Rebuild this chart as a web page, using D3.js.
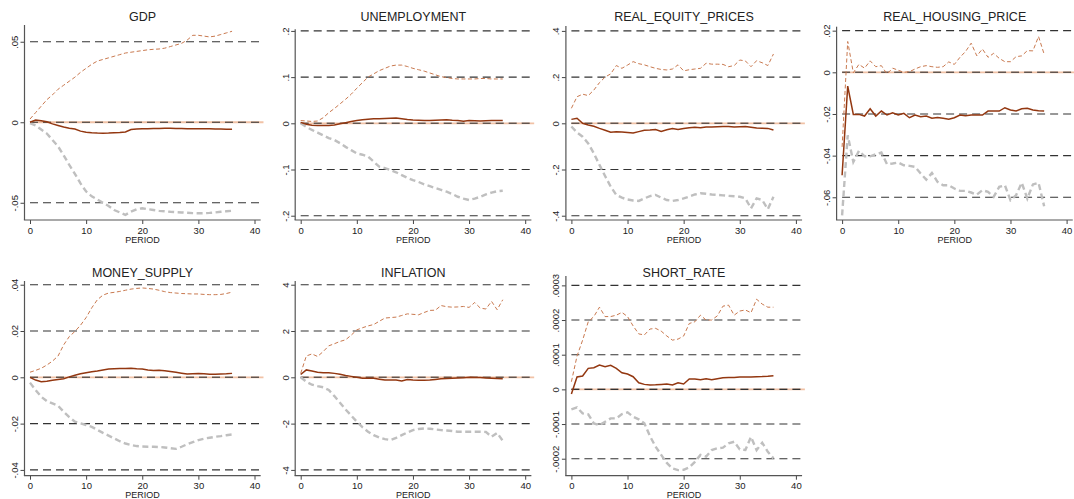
<!DOCTYPE html>
<html>
<head>
<meta charset="utf-8">
<script src="https://cdn.jsdelivr.net/npm/d3@7"></script>
<style>
	body { margin: 0; background: #fff; }
	text { font-family: "Liberation Sans", Arial, sans-serif; fill: #222; }
</style>
</head>
<body>
<div id="chart"></div>
<script type="text/javascript">

	var period = [0,1,2,3,4,5,6,7,8,9,10,11,12,13,14,15,16,17,18,19,20,21,22,23,24,25,26,27,28,29,30,31,32,33,34,35,36];
	var xTicks = [0, 10, 20, 30, 40];
	var titles = ["GDP", "UNEMPLOYMENT", "REAL_EQUITY_PRICES", "REAL_HOUSING_PRICE", "MONEY_SUPPLY", "INFLATION", "SHORT_RATE"];

	// GDP
	var gdpIrf = [0,.0014,.001,.0003,-.001,-.002,-.003,-.0037,-.0042,-.0055,-.0062,-.0065,-.0067,-.0068,-.0067,-.0065,-.0063,-.006,-.0045,-.0042,-.0041,-.004,-.0039,-.0038,-.0037,-.0037,-.0038,-.0039,-.004,-.0041,-.0041,-.0041,-.0041,-.0042,-.0042,-.0043,-.0043];
	var gdpUpper = [.002,.006,.010,.014,.017,.0205,.023,.0255,.028,.031,.0335,.036,.038,.039,.040,.041,.042,.043,.0435,.044,.0445,.045,.0453,.0455,.046,.047,.048,.049,.051,.054,.054,.0535,.053,.0535,.0545,.0555,.0565];
	var gdpLower = [-.0005,-.002,-.0045,-.007,-.011,-.015,-.0205,-.0265,-.032,-.038,-.043,-.046,-.048,-.050,-.052,-.0545,-.056,-.0575,-.0555,-.054,-.0534,-.054,-.0545,-.055,-.0553,-.0556,-.0558,-.056,-.0562,-.0564,-.0565,-.0565,-.0563,-.056,-.0556,-.0553,-.055];
	var gdpTicks = [-.05, 0, .05];
	var gdpLabels = ["-.05", "0", ".05"];
	var gdpDomain = [-.0607, .0604];

	// UNEMPLOYMENT
	var unempIrf = [.002,-.002,-.004,-.0048,-.005,-.0045,-.0036,-.001,.0014,.004,.006,.0075,.009,.010,.010,.0105,.011,.0115,.010,.008,.007,.0065,.006,.006,.0065,.007,.0075,.0065,.006,.0045,.006,.0055,.005,.0055,.006,.006,.006];
	var unempUpper = [.006,.005,.004,.005,.012,.023,.032,.042,.052,.063,.076,.088,.100,.107,.114,.119,.124,.126,.126,.123,.119,.116,.113,.109,.105,.101,.099,.097,.096,.096,.096,.096,.097,.097,.096,.096,.096];
	var unempLower = [0,-.008,-.0144,-.02,-.026,-.032,-.036,-.043,-.051,-.058,-.065,-.068,-.072,-.083,-.094,-.097,-.101,-.106,-.112,-.118,-.123,-.127,-.132,-.136,-.140,-.144,-.148,-.153,-.159,-.163,-.166,-.163,-.159,-.154,-.150,-.147,-.146];
	var unempTicks = [-.2, -.1, 0, .1, .2];
	var unempLabels = ["-.2", "-.1", "0", ".1", ".2"];
	var unempDomain = [-.2093, .2035];

	// REAL_EQUITY_PRICES
	var equityIrf = [.017,.022,0,-.007,-.013,-.022,-.030,-.039,-.037,-.038,-.040,-.042,-.036,-.030,-.029,-.027,-.035,-.028,-.023,-.027,-.023,-.019,-.017,-.019,-.016,-.016,-.015,-.014,-.014,-.016,-.015,-.014,-.017,-.020,-.021,-.022,-.029];
	var equityUpper = [.065,.115,.126,.12,.144,.176,.2,.214,.25,.238,.252,.267,.258,.253,.245,.238,.233,.231,.235,.253,.227,.232,.235,.238,.26,.256,.256,.255,.245,.25,.274,.27,.245,.271,.262,.25,.3];
	var equityLower = [-.014,-.04,-.058,-.087,-.13,-.18,-.228,-.274,-.31,-.322,-.33,-.334,-.336,-.325,-.315,-.31,-.322,-.332,-.336,-.332,-.325,-.317,-.308,-.303,-.305,-.308,-.31,-.312,-.314,-.316,-.318,-.325,-.368,-.325,-.332,-.372,-.318];
	var equityTicks = [-.4, -.2, 0, .2, .4];
	var equityLabels = ["-.4", "-.2", "0", ".2", ".4"];
	var equityDomain = [-.4186, .4212];

	// REAL_HOUSING_PRICE
	var housingIrf = [-.0494,-.0066,-.0202,-.0202,-.021,-.0175,-.021,-.0186,-.0205,-.0194,-.0205,-.0197,-.0218,-.0205,-.0213,-.021,-.022,-.0217,-.0221,-.0225,-.0218,-.0205,-.0209,-.0205,-.0205,-.0205,-.0186,-.0186,-.0186,-.017,-.0181,-.0186,-.0175,-.0173,-.0181,-.0184,-.0186];
	var housingUpper = [-.0358,.0148,-.0002,.0038,.002,.0055,.0027,.0032,-.0008,.002,.001,0,.0003,.0016,.0027,.0032,.0027,.0024,.0027,.005,.0038,.0072,.01,.014,.0079,.0112,.0072,.0091,.0067,.0051,.0051,.0075,.0079,.0104,.0103,.0172,.0087];
	var housingLower = [-.0687,-.0302,-.043,-.0377,-.0403,-.0403,-.0393,-.0385,-.0441,-.0438,-.0433,-.0446,-.0449,-.0454,-.0486,-.0515,-.0483,-.0526,-.0542,-.0542,-.0558,-.0569,-.0569,-.0577,-.0587,-.0566,-.0574,-.0598,-.055,-.0542,-.0614,-.059,-.053,-.0606,-.0538,-.053,-.0643];
	var housingTicks = [-.06, -.04, -.02, 0, .02];
	var housingLabels = ["-.06", "-.04", "-.02", "0", ".02"];
	var housingDomain = [-.0709, .0219];

	// MONEY_SUPPLY
	var moneyIrf = [0,-.0012,-.0019,-.0017,-.0013,-.0009,-.0006,.0002,.0009,.0015,.002,.0024,.0027,.0032,.0036,.0037,.0038,.0038,.0039,.0037,.0036,.0032,.0029,.0031,.0028,.0025,.0022,.0018,.0014,.0015,.0016,.0015,.0013,.0013,.0014,.0015,.0017];
	var moneyUpper = [.0022,.003,.0039,.0053,.007,.0092,.014,.0176,.0198,.0225,.0258,.030,.0335,.0355,.0364,.0367,.0371,.0376,.0381,.0384,.0386,.0384,.0381,.0376,.037,.0366,.0364,.0362,.0361,.036,.036,.0358,.0357,.0357,.0358,.0362,.0368];
	var moneyLower = [-.0023,-.0055,-.0084,-.0103,-.0113,-.0123,-.0149,-.0172,-.0192,-.0199,-.0206,-.0214,-.0227,-.024,-.0252,-.0264,-.0276,-.0286,-.0292,-.0297,-.0299,-.03,-.03,-.0301,-.0303,-.0306,-.0309,-.03,-.0289,-.028,-.0271,-.0265,-.0261,-.0257,-.0254,-.025,-.0247];
	var moneyTicks = [-.04, -.02, 0, .02, .04];
	var moneyLabels = ["-.04", "-.02", "0", ".02", ".04"];
	var moneyDomain = [-.0425, .0416];

	// INFLATION
	var inflIrf = [.12,.32,.27,.22,.2,.2,.17,.13,.08,.04,0,-.04,-.04,-.04,-.08,-.12,-.12,-.12,-.16,-.1,-.12,-.13,-.13,-.12,-.09,-.06,-.05,-.04,-.03,-.02,0,-.01,-.01,-.03,-.04,-.05,-.06];
	var inflUpper = [.17,.92,1.01,.9,1.11,1.36,1.45,1.55,1.62,1.82,2.05,2.14,2.22,2.28,2.42,2.56,2.58,2.6,2.67,2.74,2.72,2.7,2.8,2.89,2.9,3.1,3.05,3.03,3.04,3.06,3.02,3.23,2.99,2.95,3.28,2.92,3.35];
	var inflLower = [0,-.19,-.32,-.38,-.43,-.55,-.81,-1.1,-1.39,-1.65,-1.92,-2.15,-2.35,-2.5,-2.6,-2.67,-2.71,-2.62,-2.5,-2.38,-2.28,-2.23,-2.21,-2.22,-2.25,-2.28,-2.3,-2.32,-2.35,-2.35,-2.35,-2.35,-2.35,-2.36,-2.57,-2.4,-2.74];
	var inflTicks = [-4, -2, 0, 2, 4];
	var inflLabels = ["-4", "-2", "0", "2", "4"];
	var inflDomain = [-4.25, 4.16];

	// SHORT_RATE
	var rateIrf = [-.0000135,.0000356,.0000385,.0000606,.0000625,.00007,.0000654,.0000692,.0000606,.000048,.0000442,.0000365,.0000192,.0000144,.0000125,.000013,.0000144,.0000154,.0000125,.0000192,.0000154,.0000298,.0000298,.0000279,.0000308,.0000279,.0000308,.0000337,.000034,.0000345,.0000356,.0000358,.000036,.0000365,.000037,.000038,.0000394];
	var rateUpper = [.000022,.000096,.000142,.000195,.00021,.000237,.00021,.00021,.000214,.000222,.00021,.000183,.00016,.000157,.000174,.000176,.000168,.000154,.000142,.000145,.000154,.00019,.000195,.000214,.0002,.0002,.000212,.00024,.000243,.000214,.000226,.000229,.000221,.00026,.000246,.000237,.000237];
	var rateLower = [-.0000577,-.0000519,-.0000692,-.0000721,-.0000981,-.000103,-.0000933,-.0000837,-.0000837,-.0000711,-.0000663,-.0000788,-.0000865,-.0000981,-.000135,-.000165,-.000189,-.000212,-.000228,-.000233,-.000232,-.000225,-.000209,-.000189,-.000194,-.000175,-.00017,-.000168,-.000156,-.000151,-.000173,-.000175,-.000137,-.000175,-.000154,-.00018,-.000199];
	var rateTicks = [-.0002, -.0001, 0, .0001, .0002, .0003];
	var rateLabels = ["-.0002", "-.0001", "0", ".0001", ".0002", ".0003"];
	var rateDomain = [-.000249, .000327];

	var panels = [
		{mid: gdpIrf, up: gdpUpper, lo: gdpLower, ticks: gdpTicks, labels: gdpLabels, domain: gdpDomain, top: 25},
		{mid: unempIrf, up: unempUpper, lo: unempLower, ticks: unempTicks, labels: unempLabels, domain: unempDomain, top: 29.3},
		{mid: equityIrf, up: equityUpper, lo: equityLower, ticks: equityTicks, labels: equityLabels, domain: equityDomain, top: 26},
		{mid: housingIrf, up: housingUpper, lo: housingLower, ticks: housingTicks, labels: housingLabels, domain: housingDomain, top: 26.7},
		{mid: moneyIrf, up: moneyUpper, lo: moneyLower, ticks: moneyTicks, labels: moneyLabels, domain: moneyDomain, top: 25.3},
		{mid: inflIrf, up: inflUpper, lo: inflLower, ticks: inflTicks, labels: inflLabels, domain: inflDomain, top: 25.3},
		{mid: rateIrf, up: rateUpper, lo: rateLower, ticks: rateTicks, labels: rateLabels, domain: rateDomain, top: 20.3}
	];

	var svg = d3.select('#chart')
				.append('svg')
					.attr('width', 1074)
					.attr('height', 499);

	function draw(p, i) {
		var col = i % 4, row = Math.floor(i / 4);
		var g = svg.append('g')
			.attr('transform', 'translate(' + (col * 270.7) + ',' + (row * 255.7) + ')');

		var x = d3.scaleLinear().domain([0, 40]).range([30, 254.5]);
		var y = d3.scaleLinear().domain(p.domain).range([220, p.top]);
		var axX = x(0) - 5.5, right = x(41.1);

		// dashed reference lines at every y tick
		g.selectAll('.ref')
			.data(p.ticks)
			.enter()
			.append('line')
				.attr('x1', x(0)).attr('x2', right)
				.attr('y1', (d) => y(d)).attr('y2', (d) => y(d))
				.attr('stroke', '#333')
				.attr('stroke-width', 1.1)
				.attr('stroke-dasharray', '8,5');

		// zero line
		g.append('line')
			.attr('x1', x(0)).attr('x2', x(41.6))
			.attr('y1', y(0)).attr('y2', y(0))
			.attr('stroke', '#f1c2a6')
			.attr('stroke-width', 1.8);
		g.append('line')
			.attr('x1', x(0)).attr('x2', right)
			.attr('y1', y(0)).attr('y2', y(0))
			.attr('stroke', '#333')
			.attr('stroke-width', 1.1)
			.attr('stroke-dasharray', '8,5');

		var line = d3.line()
			.x((d, k) => x(period[k]))
			.y((d) => y(d));

		g.append('path').attr('d', line(p.lo))
			.attr('fill', 'none').attr('stroke', '#bfbfbf')
			.attr('stroke-width', 2.4).attr('stroke-dasharray', '6,3.5');
		g.append('path').attr('d', line(p.up))
			.attr('fill', 'none').attr('stroke', '#c9794f')
			.attr('stroke-width', 1).attr('stroke-dasharray', '4,2.5');
		g.append('path').attr('d', line(p.mid))
			.attr('fill', 'none').attr('stroke', '#933710')
			.attr('stroke-width', 1.5);

		// axes
		var yAxis = d3.axisLeft(y)
			.tickValues(p.ticks)
			.tickFormat((d, k) => p.labels[k])
			.tickSize(4).tickSizeOuter(0);
		var ya = g.append('g').attr('transform', 'translate(' + axX + ',0)').call(yAxis);
		ya.select('.domain').remove();
		ya.selectAll('line').attr('stroke', '#444');
		ya.selectAll('text')
			.attr('x', 0).attr('dy', 0)
			.attr('text-anchor', 'middle')
			.attr('transform', 'translate(-6.5,0) rotate(-90)')
			.style('font-size', '9.5px')
			.style('font-family', '"Liberation Sans", Arial, sans-serif');

		var xAxis = d3.axisBottom(x)
			.tickValues(xTicks)
			.tickSize(4).tickSizeOuter(0).tickPadding(3);
		var xa = g.append('g').attr('transform', 'translate(0,220)').call(xAxis);
		xa.select('.domain').remove();
		xa.selectAll('line').attr('stroke', '#444');
		xa.selectAll('text')
			.style('font-size', '9.5px')
			.style('font-family', '"Liberation Sans", Arial, sans-serif');

		g.append('line')
			.attr('x1', axX).attr('x2', axX)
			.attr('y1', 220).attr('y2', p.top)
			.attr('stroke', '#555').attr('stroke-width', 1.2);
		g.append('line')
			.attr('x1', axX - 0.6).attr('x2', right)
			.attr('y1', 220).attr('y2', 220)
			.attr('stroke', '#555').attr('stroke-width', 1.2);

		var cx = (axX + right) / 2;
		g.append('text')
			.attr('x', cx).attr('y', 21)
			.attr('text-anchor', 'middle')
			.style('font-size', '12.5px')
			.text(titles[i]);
		g.append('text')
			.attr('x', cx).attr('y', 242.5)
			.attr('text-anchor', 'middle')
			.style('font-size', '9px')
			.text('PERIOD');
	}

	panels.forEach(draw);
</script>
</body>
</html>
